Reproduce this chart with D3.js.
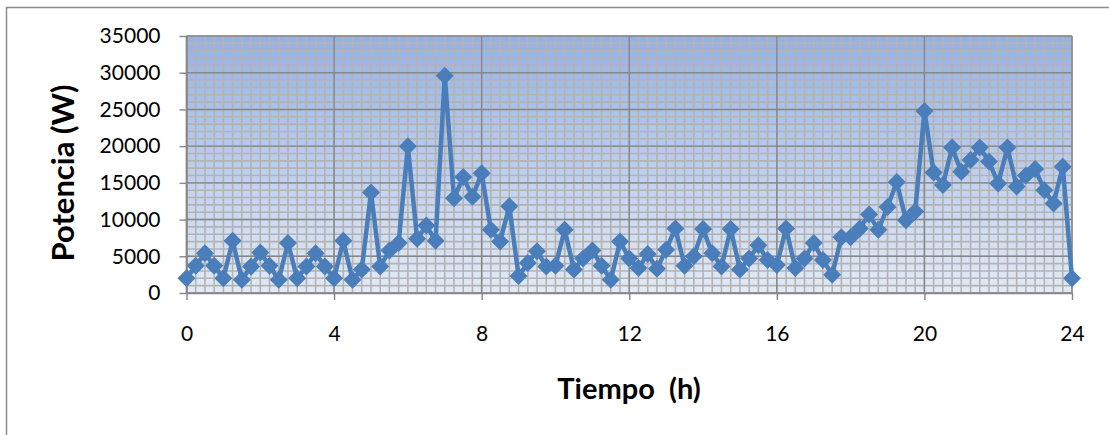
<!DOCTYPE html>
<html>
<head>
<meta charset="utf-8">
<script src="https://cdn.jsdelivr.net/npm/d3@7"></script>
<style>
  html, body { margin: 0; padding: 0; background: #ffffff; }
  svg { display: block; }
  text { font-family: Lato, "Open Sans", sans-serif; fill: #000; }
</style>
</head>
<body>
<svg id="chart" width="1109" height="435"></svg>
<script>
// Hour of day for each reading (every 15 minutes)
const hours = [
  0, 0.25, 0.5, 0.75, 1, 1.25, 1.5, 1.75, 2, 2.25, 2.5, 2.75,
  3, 3.25, 3.5, 3.75, 4, 4.25, 4.5, 4.75, 5, 5.25, 5.5, 5.75,
  6, 6.25, 6.5, 6.75, 7, 7.25, 7.5, 7.75, 8, 8.25, 8.5, 8.75,
  9, 9.25, 9.5, 9.75, 10, 10.25, 10.5, 10.75, 11, 11.25, 11.5, 11.75,
  12, 12.25, 12.5, 12.75, 13, 13.25, 13.5, 13.75, 14, 14.25, 14.5, 14.75,
  15, 15.25, 15.5, 15.75, 16, 16.25, 16.5, 16.75, 17, 17.25, 17.5, 17.75,
  18, 18.25, 18.5, 18.75, 19, 19.25, 19.5, 19.75, 20, 20.25, 20.5, 20.75,
  21, 21.25, 21.5, 21.75, 22, 22.25, 22.5, 22.75, 23, 23.25, 23.5, 23.75,
  24
];

// Power demand (W) at each reading
const power = [
  2000, 3700, 5400, 3700, 2000, 7100, 1800, 3600, 5500, 3700, 1800, 6800,
  2000, 3600, 5400, 3600, 2000, 7100, 1800, 3200, 13700, 3600, 5800, 6800,
  20000, 7400, 9200, 7100, 29600, 12900, 15800, 13100, 16300, 8600, 7000, 11800,
  2300, 4100, 5700, 3600, 3700, 8600, 3200, 4700, 5800, 3700, 1800, 7000,
  4700, 3400, 5300, 3300, 5900, 8800, 3700, 5000, 8700, 5400, 3600, 8700,
  3200, 4700, 6500, 4500, 3800, 8800, 3400, 4700, 6800, 4500, 2500, 7600,
  7600, 8800, 10700, 8600, 11700, 15100, 9900, 11100, 24800, 16400, 14700, 19800,
  16500, 18100, 19800, 17900, 14900, 19800, 14500, 16000, 16900, 14000, 12200, 17200,
  2000
];

const xTicks = [0, 4, 8, 12, 16, 20, 24];
const yTicks = [0, 5000, 10000, 15000, 20000, 25000, 30000, 35000];
const xTitle = "Tiempo  (h)";
const yTitle = "Potencia (W)";

const svg = d3.select("#chart");

// Chart area frame (left and top edges)
svg.append("path")
  .attr("d", "M6.5,435 V7.5 H1109")
  .attr("fill", "none")
  .attr("stroke", "#8c8c8c")
  .attr("stroke-width", 1.5);

const plotLeft = 186.5, plotRight = 1072, plotTop = 36, plotBottom = 293;

const x = d3.scaleLinear().domain([0, 24]).range([plotLeft, plotRight]);
const y = d3.scaleLinear().domain([0, 35000]).range([plotBottom, plotTop]);

// Plot background gradient
const defs = svg.append("defs");
const grad = defs.append("linearGradient")
  .attr("id", "plotBg").attr("x1", 0).attr("y1", 0).attr("x2", 0).attr("y2", 1);
grad.append("stop").attr("offset", "0%").attr("stop-color", "#94b1e5");
grad.append("stop").attr("offset", "100%").attr("stop-color", "#e3eaf6");

svg.append("rect")
  .attr("x", plotLeft).attr("y", plotTop)
  .attr("width", plotRight - plotLeft).attr("height", plotBottom - plotTop)
  .attr("fill", "url(#plotBg)");

// Minor gridlines
const minorG = svg.append("g").attr("stroke", "#b3b3b3").attr("stroke-width", 1.6);
minorG.selectAll("line.mh")
  .data(d3.range(0, 35001, 1000))
  .join("line")
  .attr("x1", plotLeft).attr("x2", plotRight)
  .attr("y1", d => y(d)).attr("y2", d => y(d));
minorG.selectAll("line.mv")
  .data(hours)
  .join("line")
  .attr("x1", d => x(d)).attr("x2", d => x(d))
  .attr("y1", plotTop).attr("y2", plotBottom);

// Major gridlines
const majorG = svg.append("g").attr("stroke", "#878787").attr("stroke-width", 1.4);
majorG.selectAll("line.h")
  .data(yTicks)
  .join("line")
  .attr("x1", plotLeft).attr("x2", plotRight)
  .attr("y1", d => y(d)).attr("y2", d => y(d));
majorG.selectAll("line.v")
  .data(xTicks)
  .join("line")
  .attr("x1", d => x(d)).attr("x2", d => x(d))
  .attr("y1", plotTop).attr("y2", plotBottom);

// Axes
const yAxis = d3.axisLeft(y).tickValues(yTicks).tickSize(7).tickSizeOuter(0).tickPadding(19)
  .tickFormat(d3.format("d"));
const gy = svg.append("g").attr("transform", `translate(${plotLeft},0)`).call(yAxis);

const xAxis = d3.axisBottom(x).tickValues(xTicks).tickSize(7).tickSizeOuter(0).tickPadding(26)
  .tickFormat(d3.format("d"));
const gx = svg.append("g").attr("transform", `translate(0,${plotBottom})`).call(xAxis);

[gx, gy].forEach(g => {
  g.select(".domain").attr("stroke", "#878787").attr("stroke-width", 1.6);
  g.selectAll(".tick line").attr("stroke", "#878787").attr("stroke-width", 1.4);
  g.selectAll(".tick text")
    .attr("font-family", "Lato, 'Open Sans', sans-serif")
    .attr("font-size", 21)
    .attr("fill", "#000");
});

// Series line and diamond markers
const pts = hours.map((h, i) => [h, power[i]]);
const line = d3.line().x(d => x(d[0])).y(d => y(d[1]));

svg.append("path")
  .datum(pts)
  .attr("d", line)
  .attr("fill", "none")
  .attr("stroke", "#4a7ebb")
  .attr("stroke-width", 4.5)
  .attr("stroke-linejoin", "round");

const m = 9;
svg.append("g").selectAll("path")
  .data(pts)
  .join("path")
  .attr("d", d => {
    const cx = x(d[0]), cy = y(d[1]);
    return `M${cx},${cy - m} L${cx + m},${cy} L${cx},${cy + m} L${cx - m},${cy} Z`;
  })
  .attr("fill", "#4a7ebb");

// Axis titles
svg.append("text")
  .attr("x", 629).attr("y", 399)
  .attr("text-anchor", "middle")
  .attr("font-size", 29)
  .attr("font-weight", "bold")
  .attr("xml:space", "preserve")
  .style("white-space", "pre")
  .text(xTitle);

svg.append("text")
  .attr("transform", "translate(74,173) rotate(-90)")
  .attr("text-anchor", "middle")
  .attr("font-size", 31)
  .attr("font-weight", "bold")
  .text(yTitle);
</script>
</body>
</html>
